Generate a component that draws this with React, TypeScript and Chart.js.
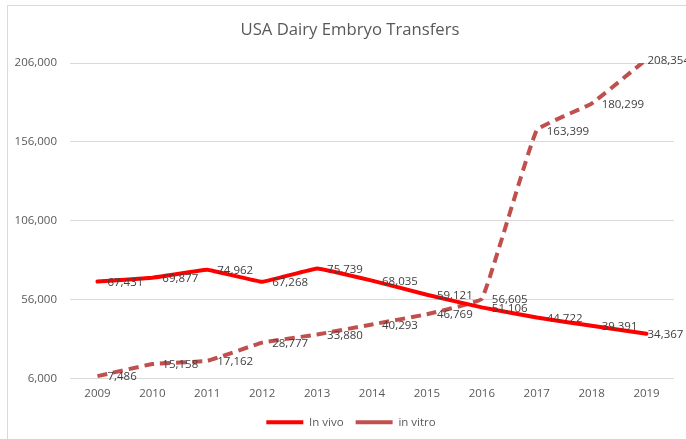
import React, { useEffect, useRef } from 'react';
import { Chart, registerables } from 'chart.js';

Chart.register(...registerables);

const years = ['2009', '2010', '2011', '2012', '2013', '2014', '2015', '2016', '2017', '2018', '2019'];
const inVivo = [67431, 69877, 74962, 67268, 75739, 68035, 59121, 51106, 44722, 39391, 34367];
const inVitro = [7486, 15158, 17162, 28777, 33880, 40293, 46769, 56605, 163399, 180299, 208354];
const yMin = 6000;
const yMax = 206000;
const yStep = 50000;

const FONT = "'Open Sans', 'Noto Sans', sans-serif";

const fmt = (v: number) => v.toLocaleString('en-US');

const frame = {
  id: 'frame',
  afterLayout(chart: any) {
    const shift = (b: any, dx: number) => {
      if (!b) return;
      b.left += dx;
      b.right += dx;
    };
    shift(chart.titleBlock, 6);
    shift(chart.legend, 7);
  },
  beforeDraw(chart: any) {
    const ctx = chart.ctx;
    ctx.save();
    ctx.fillStyle = '#ffffff';
    ctx.fillRect(0, 0, chart.width, chart.height);
    ctx.strokeStyle = '#D9D9D9';
    ctx.lineWidth = 1;
    ctx.strokeRect(7.5, 5.5, chart.width + 20, chart.height + 20);
    ctx.restore();
  },
};

const dataLabels = {
  id: 'dataLabels',
  afterDatasetsDraw(chart: any) {
    const ctx = chart.ctx;
    ctx.save();
    ctx.font = `11.5px ${FONT}`;
    ctx.fillStyle = '#404040';
    ctx.textAlign = 'left';
    ctx.textBaseline = 'middle';
    chart.data.datasets.forEach((ds: any, di: number) => {
      const meta = chart.getDatasetMeta(di);
      const last = meta.data.length - 1;
      meta.data.forEach((pt: any, i: number) => {
        const off = i === last ? 1 : 10;
        ctx.fillText(fmt(ds.data[i]), pt.x + off, pt.y + 1);
      });
    });
    ctx.restore();
  },
};

export default function App() {
  const ref = useRef<HTMLCanvasElement | null>(null);
  useEffect(() => {
    document.body.style.margin = '0';
    const chart = new Chart(ref.current as HTMLCanvasElement, {
      type: 'line',
      data: {
        labels: years,
        datasets: [
          {
            label: 'In vivo',
            data: inVivo,
            borderColor: '#FF0000',
            backgroundColor: '#FF0000',
            borderWidth: 4,
            pointRadius: 0,
            tension: 0.06,
            borderCapStyle: 'round',
          },
          {
            label: 'in vitro',
            data: inVitro,
            borderColor: '#C0504D',
            backgroundColor: '#C0504D',
            borderWidth: 4,
            borderDash: [10, 6],
            pointRadius: 0,
            tension: 0.08,
          },
        ],
      },
      options: {
        responsive: false,
        animation: false,
        layout: { padding: { left: 14, right: 12, top: 0, bottom: 1 } },
        plugins: {
          title: {
            display: true,
            text: 'USA Dairy Embryo Transfers',
            color: '#595959',
            font: { family: FONT, size: 16.7, weight: 'normal' },
            padding: { top: 20, bottom: 23 },
          },
          legend: {
            position: 'bottom',
            labels: {
              usePointStyle: true,
              pointStyle: 'line',
              pointStyleWidth: 37,
              color: '#595959',
              font: { family: FONT, size: 11.5 },
              padding: 12,
            },
          },
          tooltip: { enabled: false },
        },
        scales: {
          x: {
            offset: true,
            grid: { display: false, drawTicks: false },
            border: { display: false },
            ticks: { color: '#595959', font: { family: FONT, size: 11.5 }, padding: 8, maxRotation: 0 },
            afterFit: (s: any) => { s.height = 26; },
          },
          y: {
            min: yMin,
            max: yMax,
            ticks: {
              stepSize: yStep,
              color: '#595959',
              font: { family: FONT, size: 11.5 },
              padding: 13,
              callback: (v: any) => fmt(Number(v)),
            },
            grid: { color: '#D9D9D9', drawTicks: false, lineWidth: 1 },
            border: { display: false },
            afterFit: (s: any) => { s.width = 56; },
          },
        },
      },
      plugins: [frame, dataLabels],
    } as any);
    return () => chart.destroy();
  }, []);
  return <canvas ref={ref} width={686} height={439} style={{ display: 'block' }} />;
}
